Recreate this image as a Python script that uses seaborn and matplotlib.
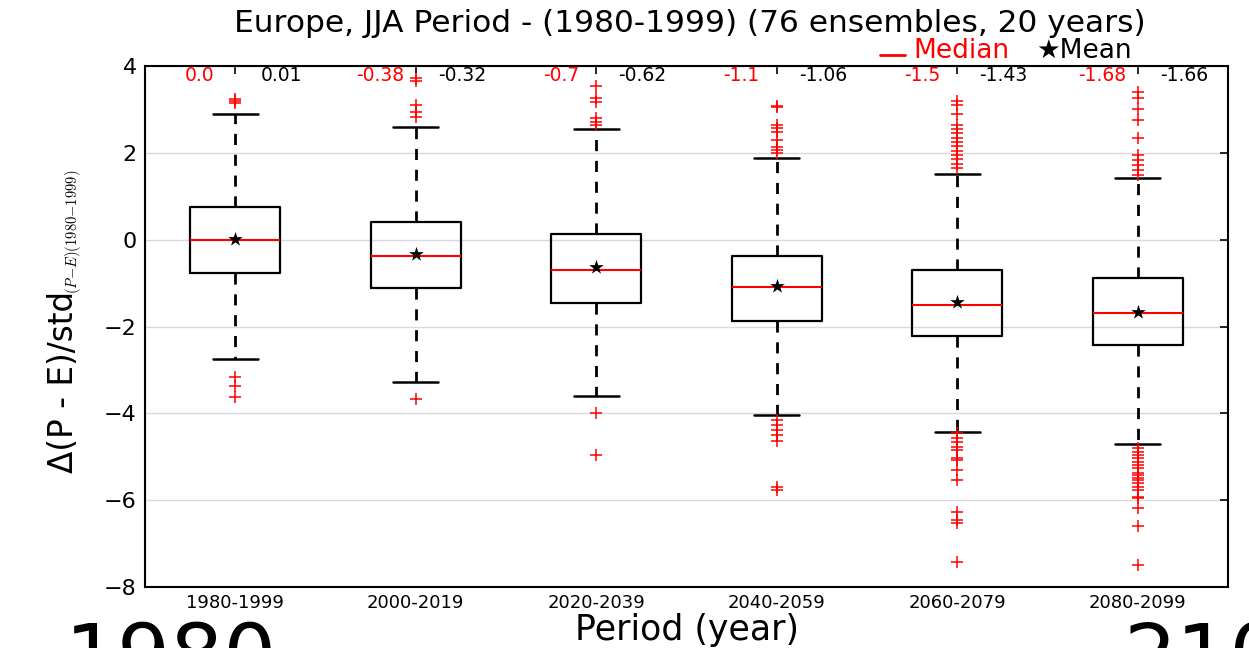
import numpy as np
import pandas as pd
import matplotlib
matplotlib.use("Agg")
import matplotlib.pyplot as plt
from matplotlib.lines import Line2D
import seaborn as sns

# ---------------- data ----------------
periods = ["1980-1999", "2000-2019", "2020-2039", "2040-2059", "2060-2079", "2080-2099"]
q1 = [-0.76, -1.11, -1.45, -1.87, -2.21, -2.42]
q3 = [0.76, 0.41, 0.14, -0.37, -0.69, -0.88]
medians = [0.0, -0.38, -0.7, -1.1, -1.5, -1.68]
means = [0.01, -0.32, -0.62, -1.06, -1.43, -1.66]
whis_low = [-2.74, -3.27, -3.59, -4.03, -4.42, -4.70]
whis_high = [2.90, 2.60, 2.56, 1.89, 1.52, 1.43]
outliers_1980 = [3.25, 3.2, 3.15, -3.16, -3.36, -3.62]
outliers_2000 = [3.72, 3.65, 3.11, 2.93, 2.83, -3.66]
outliers_2020 = [3.53, 3.27, 3.18, 2.81, 2.72, 2.65, -3.99, -4.95]
outliers_2040 = [3.08, 3.05, 2.65, 2.58, 2.47, 2.3, 2.14, 2.07, 2.0,
                 -4.15, -4.26, -4.38, -4.5, -4.63, -5.69, -5.76]
outliers_2060 = [3.2, 3.1, 2.9, 2.65, 2.55, 2.45, 2.35, 2.25, 2.15, 2.05, 1.95, 1.85, 1.75, 1.65,
                 -4.45, -4.56, -4.65, -4.77, -4.84, -5.02, -5.07, -5.3, -5.53,
                 -6.27, -6.45, -6.52, -7.42]
outliers_2080 = [3.41, 3.27, 3.0, 2.76, 2.35, 1.96, 1.84, 1.73, 1.61, 1.5,
                 -4.79, -4.88, -4.95, -5.02, -5.12, -5.18, -5.25, -5.37, -5.41, -5.48,
                 -5.53, -5.6, -5.69, -5.76, -5.92, -5.94, -6.17, -6.59, -7.49]
outliers = [outliers_1980, outliers_2000, outliers_2020, outliers_2040, outliers_2060, outliers_2080]
median_labels = ["0.0", "-0.38", "-0.7", "-1.1", "-1.5", "-1.68"]
mean_labels = ["0.01", "-0.32", "-0.62", "-1.06", "-1.43", "-1.66"]

# ---------------- style ----------------
sns.set_style("white")
plt.rcParams["font.family"] = ["DejaVu Sans"]
plt.rcParams["mathtext.fontset"] = "cm"
for k in ["text.color", "axes.labelcolor", "xtick.color", "ytick.color", "axes.edgecolor"]:
    plt.rcParams[k] = "black"

fig = plt.figure(figsize=(12.49, 6.48), dpi=100)
ax = fig.add_axes([0.1161, 0.0941, 0.8671, 0.8040])

# boxes (quartiles, whiskers, caps, medians)
stats = []
for i in range(len(periods)):
    stats.append(dict(med=medians[i], q1=q1[i], q3=q3[i],
                      whislo=whis_low[i], whishi=whis_high[i], fliers=[]))
positions = list(range(len(periods)))
ax.bxp(stats, positions=positions, widths=0.5, showfliers=False,
       boxprops=dict(color="black", linewidth=1.6),
       whiskerprops=dict(color="black", linewidth=2.0, linestyle=(0, (4, 3.5))),
       capprops=dict(color="black", linewidth=1.8),
       medianprops=dict(color="red", linewidth=1.5),
       manage_ticks=False, zorder=3)

# outliers and means via seaborn
out_df = pd.DataFrame({
    "period": [p for p, o in zip(periods, outliers) for _ in o],
    "value": [v for o in outliers for v in o],
})
sns.stripplot(data=out_df, x="period", y="value", order=periods, jitter=False,
              marker="+", color="red", size=9, linewidth=1.1, ax=ax, zorder=4)
mean_df = pd.DataFrame({"period": periods, "value": means})
sns.stripplot(data=mean_df, x="period", y="value", order=periods, jitter=False,
              marker="*", color="black", size=11, ax=ax, zorder=5)

# annotations of median / mean values
for i in range(len(periods)):
    ax.text(i - 0.195, 3.78, median_labels[i], color="red", ha="center", va="center", fontsize=13.5)
    ax.text(i + 0.255, 3.78, mean_labels[i], color="black", ha="center", va="center", fontsize=13.5)

ax.set_xlim(-0.5, 5.5)
ax.set_ylim(-8, 4)
ax.set_yticks([-8, -6, -4, -2, 0, 2, 4])
ax.set_yticklabels(["\u22128", "\u22126", "\u22124", "\u22122", "0", "2", "4"])
ax.yaxis.grid(True, color="#d9d9d9", linewidth=1, zorder=0)
ax.xaxis.grid(False)
ax.set_axisbelow(True)
for s in ax.spines.values():
    s.set_color("black")
    s.set_linewidth(1.5)
ax.tick_params(axis="both", direction="in", top=True, right=True, length=6, width=1.2, color="black")
ax.tick_params(axis="x", labelsize=13, pad=5)
ax.tick_params(axis="y", labelsize=16, pad=6)

ax.set_xlabel("Period (year)", fontsize=25, labelpad=1)
ax.set_ylabel("")

# y label: main part plus smaller subscript
fig.text(0.0505, (648 - 473) / 648, "\u0394(P - E)/std", fontsize=23.5, rotation=90,
         ha="center", va="bottom")
fig.text(0.0585, (648 - 294) / 648, "$(P{-}E)(1980{-}1999)$", fontsize=10.5, rotation=90,
         ha="center", va="bottom")

# title
fig.text(0.552, 0.951, "Europe, JJA Period - (1980-1999) (76 ensembles, 20 years)",
         fontsize=22.5, ha="center", va="baseline")

# legend-like header
fig.add_artist(Line2D([880 / 1249, 905 / 1249], [1 - 55 / 648, 1 - 55 / 648],
                      transform=fig.transFigure, color="red", linewidth=2))
fig.text(0.731, 0.9105, "Median", color="red", fontsize=19, ha="left", va="baseline")
fig.text(0.830, 0.9105, "\u2605Mean", color="black", fontsize=19, ha="left", va="baseline")

# large truncated year labels at bottom
fig.text(0.137, -0.055, "1980", fontsize=60, ha="center", va="baseline")
fig.text(0.900, -0.055, "2100", fontsize=60, ha="left", va="baseline")

fig.savefig("out.png", dpi=100)
